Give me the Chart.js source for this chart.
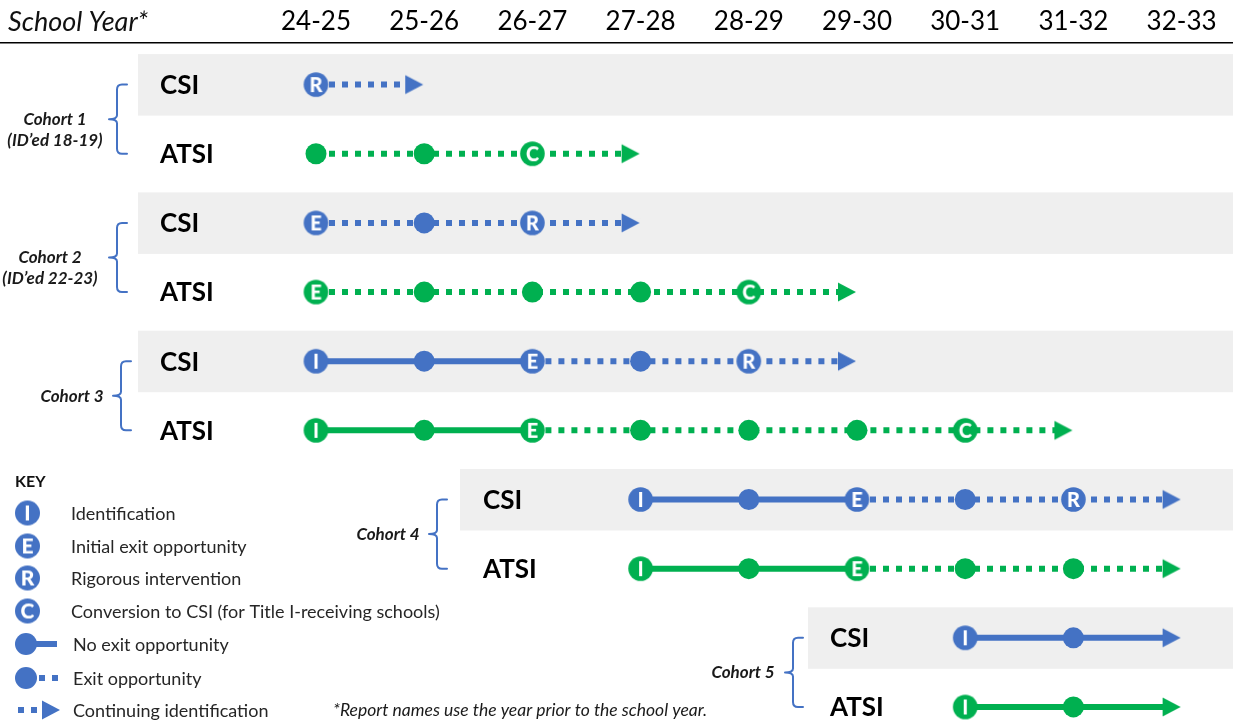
<!DOCTYPE html>
<html><head><meta charset="utf-8">
<script src="https://cdn.jsdelivr.net/npm/chart.js@4"></script>
<style>html,body{margin:0;padding:0;background:#fff}#wrap{width:1233px;height:723px;position:relative}</style>
</head><body><div id="wrap"><canvas id="c" width="1233" height="723"></canvas></div>
<script>
// ---------- data ----------
const schoolYears = ['24-25','25-26','26-27','27-28','28-29','29-30','30-31','31-32','32-33'];
const cohortNames = ['Cohort 1','Cohort 2','Cohort 3','Cohort 4','Cohort 5'];
const cohortNotes = ['(ID\u2019ed 18-19)','(ID\u2019ed 22-23)','','',''];
const cohortStart = ['24-25','24-25','24-25','27-28','30-31'];
const exitEligibleAtStart = [true,true,false,false,false];
const rowTypes = ['CSI','ATSI'];
// milestones per school year from cohort start: I/E/R/C lettered, '•' plain year, '>' continuing identification
const cohort1CSI  = ['R','>'];
const cohort1ATSI = ['•','•','C','>'];
const cohort2CSI  = ['E','•','R','>'];
const cohort2ATSI = ['E','•','•','•','C','>'];
const cohort3CSI  = ['I','•','E','•','R','>'];
const cohort3ATSI = ['I','•','E','•','•','•','C','>'];
const cohort4CSI  = ['I','•','E','•','R','>'];
const cohort4ATSI = ['I','•','E','•','•','>'];
const cohort5CSI  = ['I','•','>'];
const cohort5ATSI = ['I','•','>'];
const keyLetters = ['I','E','R','C'];
const keyLabels = ['Identification','Initial exit opportunity','Rigorous intervention',
  'Conversion to CSI (for Title I-receiving schools)','No exit opportunity','Exit opportunity','Continuing identification'];
const headerLabel = 'School Year*';
const footnote = '*Report names use the year prior to the school year.';

const rows = [cohort1CSI,cohort1ATSI,cohort2CSI,cohort2ATSI,cohort3CSI,cohort3ATSI,cohort4CSI,cohort4ATSI,cohort5CSI,cohort5ATSI];

// ---------- style / layout ----------
const COLORS = {CSI:'#4472C4', ATSI:'#00B050'};
const BAND = '#EFEFEF';
const FONT = 'Lato';
const W = 1233, H = 723, AXIS_H = 43;
const YEAR0_PX = 316, YEAR_STEP = 108.2;
const ROW0_PX = 84.6, ROW_STEP = 69.15;
const X_MIN = -YEAR0_PX / YEAR_STEP, X_MAX = X_MIN + W / YEAR_STEP;
const Y_MIN = -(ROW0_PX - AXIS_H) / ROW_STEP, Y_MAX = Y_MIN + (H - AXIS_H) / ROW_STEP;
const layout = {
  bandLeft:  [138,138,138,460,808],
  labelLeft: [160,160,160,483,830],
  bracketX:  [117,117,121,437,793],
  cohortTextX: [55,50,72,388,743]
};

function letterImg(color, letter, r, fs) {
  const s = Math.ceil(2*r) + 2, c = document.createElement('canvas');
  c.width = c.height = s;
  const g = c.getContext('2d');
  g.fillStyle = color; g.beginPath(); g.arc(s/2, s/2, r, 0, Math.PI*2); g.fill();
  g.fillStyle = '#fff'; g.font = `900 ${fs}px ${FONT}`; g.textAlign = 'center'; g.textBaseline = 'alphabetic';
  g.fillText(letter, s/2, s/2 + fs*0.36);
  return c;
}
function arrowImg(color, bg) {
  const c = document.createElement('canvas'); c.width = 44; c.height = 26;
  const g = c.getContext('2d'), cx = 22, cy = 13, tip = cx - 1;
  g.fillStyle = bg; g.fillRect(tip - 8, cy - 4, 10, 8);
  g.fillStyle = color; g.beginPath();
  g.moveTo(tip - 18, cy - 9.5); g.lineTo(tip, cy); g.lineTo(tip - 18, cy + 9.5); g.closePath(); g.fill();
  return c;
}

function build() {
  const datasets = rows.map((markers, r) => {
    const cohort = Math.floor(r/2), type = rowTypes[r%2];
    const start = schoolYears.indexOf(cohortStart[cohort]);
    const color = COLORS[type], bg = type === 'CSI' ? BAND : '#ffffff';
    const eIdx = markers.indexOf('E');
    const dottedFrom = exitEligibleAtStart[cohort] ? 0 : (eIdx < 0 ? Infinity : eIdx);
    const arrow = arrowImg(color, bg);
    return {
      label: cohortNames[cohort] + ' ' + type,
      data: markers.map((m, k) => ({x: start + k, y: r})),
      borderColor: color, borderWidth: 6, borderCapStyle: 'butt', tension: 0, fill: false,
      pointStyle: markers.map(m => m === '•' ? 'circle' : m === '>' ? arrow : letterImg(color, m, 12.3, 20)),
      pointRadius: markers.map(m => m === '•' ? 10.5 : 12.3),
      pointHoverRadius: markers.map(m => m === '•' ? 10.5 : 12.3),
      pointBackgroundColor: color, pointBorderWidth: 0, pointHoverBorderWidth: 0,
      segment: { borderDash: ctx => ctx.p0DataIndex >= dottedFrom ? [6, 7] : undefined }
    };
  });

  const decor = {
    id: 'decor',
    beforeDatasetsDraw(chart) {
      const {ctx, scales: {x, y}} = chart;
      ctx.save();
      for (let c = 0; c < cohortNames.length; c++) {
        const yc = y.getPixelForValue(2*c), ya = y.getPixelForValue(2*c+1);
        ctx.fillStyle = BAND;
        ctx.fillRect(layout.bandLeft[c], yc - 30.5, W - layout.bandLeft[c], 61.5);
        // row labels
        ctx.fillStyle = '#000'; ctx.font = `bold 26px ${FONT}`; ctx.textAlign = 'left'; ctx.textBaseline = 'alphabetic';
        ctx.fillText(rowTypes[0], layout.labelLeft[c], yc + 9.4);
        ctx.fillText(rowTypes[1], layout.labelLeft[c], ya + 9.4);
        // bracket
        const bx = layout.bracketX[c], mid = (yc + ya) / 2;
        ctx.strokeStyle = '#4472C4'; ctx.lineWidth = 2; ctx.lineCap = 'round';
        ctx.beginPath();
        ctx.moveTo(bx + 10, yc); ctx.lineTo(bx + 5, yc); ctx.quadraticCurveTo(bx, yc, bx, yc + 5);
        ctx.lineTo(bx, mid - 4); ctx.quadraticCurveTo(bx, mid, bx - 8, mid);
        ctx.moveTo(bx - 8, mid); ctx.quadraticCurveTo(bx, mid, bx, mid + 4);
        ctx.lineTo(bx, ya - 5); ctx.quadraticCurveTo(bx, ya, bx + 5, ya); ctx.lineTo(bx + 10, ya);
        ctx.stroke();
        // cohort text
        ctx.fillStyle = '#1a1a1a'; ctx.font = `italic bold 17px ${FONT}`; ctx.textAlign = 'center';
        ctx.fillText(cohortNames[c], layout.cohortTextX[c], mid + 6);
        if (cohortNotes[c]) ctx.fillText(cohortNotes[c], layout.cohortTextX[c], mid + 27);
      }
      ctx.restore();
    },
    afterDraw(chart) {
      const {ctx} = chart;
      ctx.save();
      ctx.fillStyle = '#111'; ctx.font = `italic 27px ${FONT}`; ctx.textAlign = 'left'; ctx.textBaseline = 'middle';
      ctx.fillText(headerLabel, 8, 22);
      // key
      const blue = COLORS.CSI, ky = [513,546,578,611,644,678,710];
      ctx.fillStyle = '#111'; ctx.font = `bold 16px ${FONT}`;
      ctx.fillText('KEY', 15, 482);
      keyLetters.forEach((L, i) => {
        const img = letterImg(blue, L, 12.5, 21);
        ctx.drawImage(img, 27.5 - img.width/2, ky[i] - img.height/2);
      });
      ctx.fillStyle = blue;
      ctx.beginPath(); ctx.arc(26, ky[4], 11, 0, Math.PI*2); ctx.fill();
      ctx.fillRect(30, ky[4] - 3, 27, 6);
      ctx.beginPath(); ctx.arc(26, ky[5], 11, 0, Math.PI*2); ctx.fill();
      ctx.fillRect(39, ky[5] - 3, 6, 6); ctx.fillRect(52, ky[5] - 3, 6, 6);
      ctx.fillRect(18, ky[6] - 3, 6, 6); ctx.fillRect(31, ky[6] - 3, 6, 6);
      ctx.beginPath(); ctx.moveTo(42, ky[6] - 9.5); ctx.lineTo(60, ky[6]); ctx.lineTo(42, ky[6] + 9.5); ctx.closePath(); ctx.fill();
      ctx.fillStyle = '#262626'; ctx.font = `18px ${FONT}`;
      keyLabels.forEach((t, i) => ctx.fillText(t, i < 4 ? 71 : 73, ky[i] + 1));
      ctx.font = `italic 17.5px ${FONT}`; ctx.fillStyle = '#1a1a1a';
      ctx.fillText(footnote, 333, 710);
      ctx.restore();
    }
  };

  new Chart(document.getElementById('c'), {
    type: 'line',
    data: { datasets },
    options: {
      responsive: false, animation: false, events: [],
      layout: { padding: 0, autoPadding: false },
      plugins: { legend: {display: false}, tooltip: {enabled: false} },
      scales: {
        x: {
          type: 'linear', position: 'top', min: X_MIN, max: X_MAX,
          afterBuildTicks: s => { s.ticks = schoolYears.map((_, i) => ({value: i})); },
          afterFit: s => { s.height = AXIS_H; },
          ticks: { callback: v => schoolYears[v] ?? '', font: {family: FONT, size: 26}, color: '#000',
                   padding: 6, autoSkip: false, maxRotation: 0, minRotation: 0 },
          grid: { display: false, drawTicks: false },
          border: { display: true, color: '#000', width: 1.5 }
        },
        y: { type: 'linear', reverse: true, min: Y_MIN, max: Y_MAX, display: false }
      }
    },
    plugins: [decor]
  });
}

Promise.all([
  document.fonts.load(`26px ${FONT}`), document.fonts.load(`bold 26px ${FONT}`), document.fonts.load(`900 20px ${FONT}`),
  document.fonts.load(`italic 25px ${FONT}`), document.fonts.load(`italic bold 17px ${FONT}`)
]).then(build, build);
</script>
</body></html>
